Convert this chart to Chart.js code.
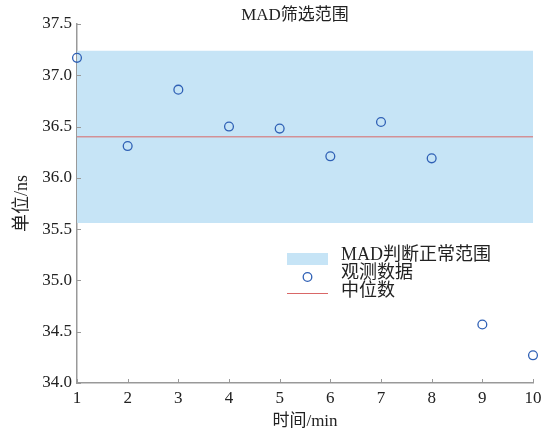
<!DOCTYPE html>
<html>
<head>
<meta charset="utf-8">
<script src="https://cdn.jsdelivr.net/npm/chart.js@4/dist/chart.umd.min.js"></script>
<style>
html,body{margin:0;padding:0;background:#fff;}
#wrap{width:554px;height:437px;}
</style>
</head>
<body>
<div id="wrap"><canvas id="c" width="554" height="437"></canvas></div>
<script>
const minutes = [1, 2, 3, 4, 5, 6, 7, 8, 9, 10];
const observed = [37.17, 36.31, 36.86, 36.50, 36.48, 36.21, 36.545, 36.19, 34.57, 34.27];
const medianValue = [36.40];
const bandBounds = [35.56, 37.24];
const xTicks = [1, 2, 3, 4, 5, 6, 7, 8, 9, 10];
const yTicks = [34.0, 34.5, 35.0, 35.5, 36.0, 36.5, 37.0, 37.5];
const legendLabels = ['MAD判断正常范围', '观测数据', '中位数'];
const titleText = 'MAD筛选范围';
const xTitle = '时间/min';
const yTitle = '单位/ns';

const serif = '"Liberation Serif", "Noto Sans CJK SC", serif';
const bandColor = '#c6e4f6';
const pointColor = '#2f60b5';
const medianColor = '#d96767';
const axisColor = '#999999';
const textColor = '#222222';

const xFirst = minutes[0], xLast = minutes[minutes.length - 1];

const overlay = {
  id: 'overlay',
  afterDraw(chart) {
    const ctx = chart.ctx;
    const xs = chart.scales.x, ys = chart.scales.y;
    const ca = chart.chartArea;
    ctx.save();
    // inward tick marks
    ctx.strokeStyle = axisColor;
    ctx.lineWidth = 1;
    ctx.beginPath();
    xs.ticks.forEach(t => {
      const px = Math.round(xs.getPixelForValue(t.value)) + 0.5;
      ctx.moveTo(px, ca.bottom);
      ctx.lineTo(px, ca.bottom - 4);
    });
    ys.ticks.forEach(t => {
      const py = Math.round(ys.getPixelForValue(t.value)) + 0.5;
      ctx.moveTo(ca.left, py);
      ctx.lineTo(ca.left + 4, py);
    });
    ctx.stroke();
    // title
    ctx.fillStyle = textColor;
    ctx.font = '17px ' + serif;
    ctx.textAlign = 'center';
    ctx.textBaseline = 'middle';
    ctx.fillText(titleText, 295, 16);
    // legend
    const lx = 287, lw = 41, tx = 341;
    const rows = [255, 273, 291];
    ctx.fillStyle = bandColor;
    ctx.fillRect(lx, 253, lw, 12);
    ctx.strokeStyle = pointColor;
    ctx.lineWidth = 1.3;
    ctx.beginPath();
    ctx.arc(lx + lw / 2, 277, 4.3, 0, Math.PI * 2);
    ctx.stroke();
    ctx.strokeStyle = medianColor;
    ctx.lineWidth = 1;
    ctx.beginPath();
    ctx.moveTo(lx, 293.5);
    ctx.lineTo(lx + lw, 293.5);
    ctx.stroke();
    ctx.fillStyle = textColor;
    ctx.font = '18px ' + serif;
    ctx.textAlign = 'left';
    legendLabels.forEach((l, i) => ctx.fillText(l, tx, rows[i]));
    ctx.restore();
  }
};

new Chart(document.getElementById('c'), {
  type: 'line',
  data: {
    datasets: [
      {
        label: legendLabels[1],
        data: minutes.map((m, i) => ({x: m, y: observed[i]})),
        showLine: false,
        pointStyle: 'circle',
        pointRadius: 4.4,
        pointBorderWidth: 1.3,
        pointBorderColor: pointColor,
        pointBackgroundColor: 'rgba(0,0,0,0)',
        clip: false,
        order: 0
      },
      {
        label: legendLabels[2],
        data: [{x: xFirst, y: medianValue[0]}, {x: xLast, y: medianValue[0]}],
        borderColor: medianColor,
        borderWidth: 1,
        pointRadius: 0,
        fill: false,
        order: 1
      },
      {
        label: legendLabels[0],
        data: [{x: xFirst, y: bandBounds[1]}, {x: xLast, y: bandBounds[1]}],
        borderWidth: 0,
        borderColor: 'rgba(0,0,0,0)',
        pointRadius: 0,
        backgroundColor: bandColor,
        fill: '+1',
        order: 2
      },
      {
        label: 'lower',
        data: [{x: xFirst, y: bandBounds[0]}, {x: xLast, y: bandBounds[0]}],
        borderWidth: 0,
        borderColor: 'rgba(0,0,0,0)',
        pointRadius: 0,
        fill: false,
        order: 3
      }
    ]
  },
  options: {
    responsive: false,
    animation: false,
    layout: {padding: {top: 24, right: 21, bottom: 0, left: 0}},
    plugins: {
      legend: {display: false},
      tooltip: {enabled: false},
      title: {display: false}
    },
    scales: {
      x: {
        type: 'linear',
        min: xFirst,
        max: xLast,
        afterFit: s => { s.height = 54; },
        afterBuildTicks: s => { s.ticks = xTicks.map(v => ({value: v})); },
        ticks: {
          color: textColor,
          font: {family: serif, size: 17},
          padding: 5,
          maxRotation: 0,
          autoSkip: false,
          callback: v => String(v)
        },
        grid: {display: true, drawOnChartArea: false, drawTicks: false},
        border: {display: true, color: axisColor, width: 1.5},
        title: {
          display: true,
          text: xTitle,
          color: textColor,
          font: {family: serif, size: 17},
          padding: {top: 0, bottom: 5}
        }
      },
      y: {
        type: 'linear',
        min: yTicks[0],
        max: yTicks[yTicks.length - 1],
        afterFit: s => { s.width = 77; },
        afterBuildTicks: s => { s.ticks = yTicks.map(v => ({value: v})); },
        ticks: {
          color: textColor,
          font: {family: serif, size: 17},
          padding: 5,
          autoSkip: false,
          callback: v => Number(v).toFixed(1)
        },
        grid: {display: true, drawOnChartArea: false, drawTicks: false},
        border: {display: true, color: axisColor, width: 1.5},
        title: {
          display: true,
          text: yTitle,
          color: textColor,
          font: {family: serif, size: 18},
          padding: {top: 11, bottom: 0}
        }
      }
    }
  },
  plugins: [overlay]
});
</script>
</body>
</html>
